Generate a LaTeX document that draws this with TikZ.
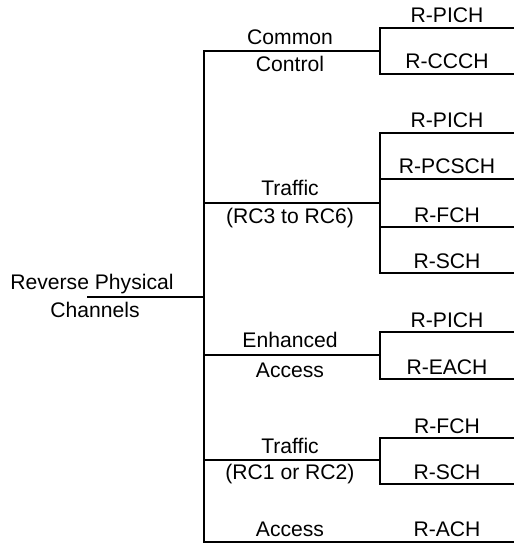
\documentclass[tikz,border=0pt]{standalone}
\usepackage{fontspec}
\setmainfont{Liberation Sans}
\begin{document}
\begin{tikzpicture}[x=1bp,y=-1bp,line width=1.5bp,
  every node/.style={font=\fontsize{21.2}{25}\selectfont,inner sep=0pt},
  lbl/.style={anchor=base},
  wire/.style={draw=black,line cap=rect}]
\useasboundingbox (0,0) rectangle (514,543);
% trunk
\coordinate (rootL) at (88,297);
\coordinate (J) at (204,297);
\coordinate (Jtop) at (204,51);
\coordinate (Jbot) at (204,542);
\node[lbl] (rootA) at (92,289) {Reverse Physical};
\node[lbl] (rootB) at (95,317) {Channels};
\draw[wire] (rootL) -- (J);
\draw[wire] (Jtop) -- (Jbot);
% categories
\coordinate (ccA) at (204,51);  \coordinate (ccB) at (380,51);
\coordinate (trA) at (204,203); \coordinate (trB) at (380,203);
\coordinate (enA) at (204,355); \coordinate (enB) at (380,355);
\coordinate (tsA) at (204,460); \coordinate (tsB) at (380,460);
\coordinate (acA) at (204,542); \coordinate (acB) at (514,542);
\draw[wire] (ccA) -- (ccB);
\draw[wire] (trA) -- (trB);
\draw[wire] (enA) -- (enB);
\draw[wire] (tsA) -- (tsB);
\draw[wire] (acA) -- (acB);
\node[lbl] (cc1) at (290,45) {Common};
\node[lbl] (cc2) at (290,72) {Control};
\node[lbl] (tr1) at (290,196) {Traffic};
\node[lbl] (tr2) at (290,223) {(RC3 to RC6)};
\node[lbl] (en1) at (290,347) {Enhanced};
\node[lbl] (en2) at (290,377) {Access};
\node[lbl] (ts1) at (290,453) {Traffic};
\node[lbl] (ts2) at (290,479) {(RC1 or RC2)};
\node[lbl] (ac1) at (290,536) {Access};
% leaves
\foreach \n/\y/\t in {l1/28/R-PICH, l2/74/R-CCCH, l3/133/R-PICH, l4/179/R-PCSCH,
  l5/227/R-FCH, l6/273/R-SCH, l7/332/R-PICH, l8/379/R-EACH, l9/438/R-FCH, l10/484/R-SCH}{
  \coordinate (\n a) at (380,\y);
  \coordinate (\n b) at (514,\y);
  \draw[wire] (\n a) -- (\n b);
  \node[lbl] (\n t) at (447,\y-5) {\t};
}
\node[lbl] (l11t) at (447,536) {R-ACH};
% group verticals
\draw[wire] (l1a) -- (l2a);
\draw[wire] (l3a) -- (l6a);
\draw[wire] (l7a) -- (l8a);
\draw[wire] (l9a) -- (l10a);
\end{tikzpicture}
\end{document}
